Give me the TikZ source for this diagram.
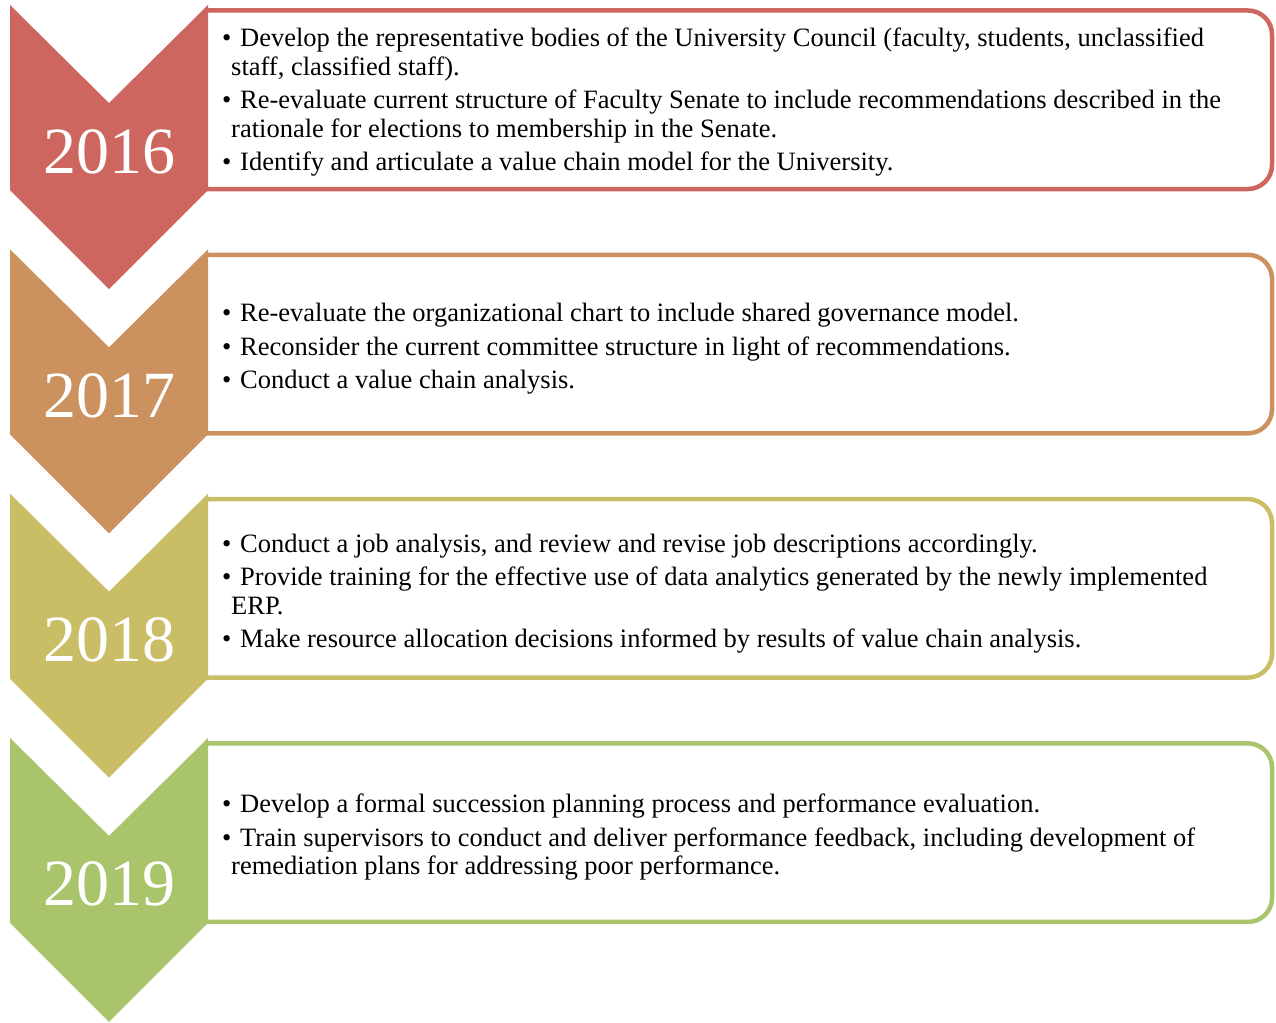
\documentclass[tikz,border=0pt]{standalone}
\usepackage{fontspec}
\setmainfont{Liberation Serif}

\definecolor{red16}{RGB}{205,102,95}
\definecolor{tan17}{RGB}{203,146,96}
\definecolor{olive18}{RGB}{201,189,102}
\definecolor{green19}{RGB}{170,196,108}

\newcommand{\itembul}{\makebox[18pt][l]{\textbullet}}
\newcommand{\itemcont}{\hspace*{9pt}}

\begin{document}
\begin{tikzpicture}[
        x=1pt, y=-1pt,
        every node/.style={align=left, inner sep=0pt},
        year/.style={text=white, anchor=base, font=\fontsize{66}{66}\selectfont},
        items/.style={anchor=west, font=\fontsize{26.5}{28.5}\selectfont},
        frame/.style={line width=4.5pt, rounded corners=24pt, fill=white}
    ]
    \useasboundingbox (0,0) rectangle (1276,1022);

    % Frames and chevrons
    \foreach \t/\c/\yr in {5/red16/2016, 249.3/tan17/2017, 493.6/olive18/2018, 737.9/green19/2019} {
        \filldraw[frame, draw=\c] (206,\t+5.5) -- (1272,\t+5.5) -- (1272,\t+184) -- (206,\t+184);
        \fill[\c] (10,\t) -- (109,\t+98) -- (208,\t) -- (208,\t+185) -- (109,\t+284) -- (10,\t+185) -- cycle;
        \node (y\yr)[year] at (109,\t+168) {\yr};
    }

    % Items
    \node (i16)[items] at (222,102.5) {\itembul Develop the representative bodies of the University Council (faculty, students, unclassified\\
        \itemcont staff, classified staff).\\[5pt]
        \itembul Re-evaluate current structure of Faculty Senate to include recommendations described in the\\
        \itemcont rationale for elections to membership in the Senate.\\[5pt]
        \itembul Identify and articulate a value chain model for the University.};
    \node (i17)[items] at (222,349) {\itembul Re-evaluate the organizational chart to include shared governance model.\\[5pt]
        \itembul Reconsider the current committee structure in light of recommendations.\\[5pt]
        \itembul Conduct a value chain analysis.};
    \node (i18)[items] at (222,593.5) {\itembul Conduct a job analysis, and review and revise job descriptions accordingly.\\[5pt]
        \itembul Provide training for the effective use of data analytics generated by the newly implemented\\
        \itemcont ERP.\\[5pt]
        \itembul Make resource allocation decisions informed by results of value chain analysis.};
    \node (i19)[items] at (222,837.5) {\itembul Develop a formal succession planning process and performance evaluation.\\[5pt]
        \itembul Train supervisors to conduct and deliver performance feedback, including development of\\
        \itemcont remediation plans for addressing poor performance.};

\end{tikzpicture}
\end{document}
